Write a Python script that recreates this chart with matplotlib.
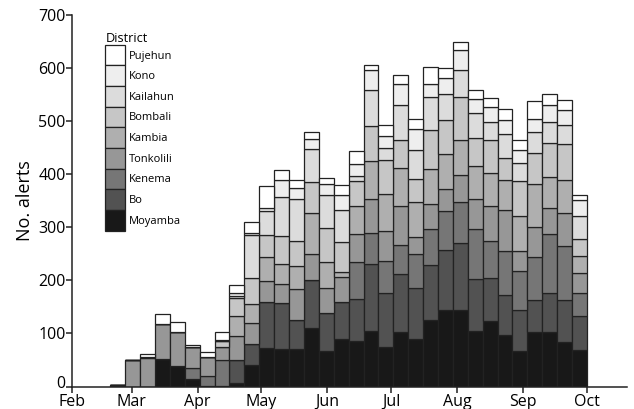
import numpy as np
import pandas as pd
import matplotlib
matplotlib.use('Agg')
import matplotlib.pyplot as plt
import matplotlib.dates as mdates
from matplotlib.transforms import ScaledTranslation

plt.rcParams['font.family'] = ['Open Sans', 'DejaVu Sans']

# weekly bins, first week starting 19 Feb 2014
week_starts = pd.date_range('2014-02-19', periods=32, freq='7D')

districts = ['Moyamba', 'Bo', 'Kenema', 'Tonkolili', 'Kambia',
             'Bombali', 'Kailahun', 'Kono', 'Pujehun']
colors = ['#181818', '#525252', '#767676', '#979797', '#afafaf',
          '#c6c6c6', '#dcdcdc', '#eeeeee', '#ffffff']

# alerts per week, one list per district (bottom of stack first)
moyamba = [0, 0, 0, 52, 39, 14, 1, 1.5, 6, 40.5, 72, 70, 70, 111, 67, 89,
           86, 105, 74, 103, 89, 125, 144, 144, 104.5, 123, 97, 67.5, 102, 102, 84.5, 69]
bo = [3, 0, 0, 0, 0, 0, 0, 0, 44, 39.5, 88, 88, 55, 89, 71, 71,
      78, 125.5, 102, 110, 96, 103.6, 114, 127, 98.5, 81.6, 75, 77, 61, 75, 78.5, 64]
kenema = [0, 0, 0, 0, 0, 21, 18, 48, 0, 0, 0, 0, 0, 0, 0, 0,
          71, 58, 60, 53, 64, 69, 73, 77, 93, 69, 84, 74, 82, 110, 101.5, 44]
tonkolili = [0, 50, 54, 65, 63, 40, 37, 25, 45, 39, 38, 36, 58, 49, 47, 47,
             52, 64, 58, 74, 33, 46.5, 41, 51.5, 56.5, 66, 77, 36, 56, 50, 62.5, 37.7]
kambia = [0, 0, 2, 0, 0, 0, 0, 0, 38, 36, 47, 36, 45, 78, 50, 9,
          53, 72, 68, 72, 66, 66, 66.5, 66, 64, 63, 56.5, 66, 81.6, 57, 63, 32]
bombali = [0, 0, 0, 0, 0, 0, 0, 11, 34, 49, 41, 53, 47, 58, 64, 56.5,
           48, 66, 65, 52, 44, 74, 64, 80, 52, 61.5, 40.5, 66, 57, 65, 68, 31]
kailahun = [0, 0, 0, 0, 0, 0, 0, 0, 4, 81, 44, 75, 78, 63, 61.5, 60,
            8, 69, 22, 67, 54, 61.5, 48, 51.5, 47, 34, 45.5, 34.5, 40, 40, 34, 43]
kono = [0, 0, 0, 0, 0, 0, 0, 2.5, 4.5, 4, 6, 32, 21, 18, 22, 29,
        23, 38, 23, 40, 40, 24.5, 31, 38, 26, 28, 26, 24, 25, 31, 28.5, 30]
pujehun = [0, 0, 6, 19, 20, 4, 9, 14, 15.5, 21.5, 42, 19, 16, 13, 11, 17.6,
           24, 9.4, 21, 16, 19, 32, 19.5, 14, 17.6, 17.6, 22, 19, 33, 22, 19, 11]

series = [moyamba, bo, kenema, tonkolili, kambia, bombali, kailahun, kono, pujehun]


def main():
    fig = plt.figure(figsize=(6.34, 4.09), dpi=100)
    ax = fig.add_axes([0.1136, 0.055, 0.876, 0.908])

    bottom = np.zeros(len(week_starts))
    handles = []
    for name, color, values in zip(districts, colors, series):
        values = np.array(values, dtype=float)
        bars = ax.bar(week_starts, values, width=7, bottom=bottom, align='edge',
                      color=color, edgecolor='#222222', linewidth=0.9, label=name)
        handles.append(bars)
        bottom += values

    ax.set_ylim(0, 700)
    ax.set_yticks(range(0, 701, 100))
    ax.set_xlim(pd.Timestamp('2014-02-01'), pd.Timestamp('2014-10-20'))
    ax.xaxis.set_major_locator(mdates.MonthLocator())
    ax.xaxis.set_major_formatter(mdates.DateFormatter('%b'))

    for side in ['top', 'right']:
        ax.spines[side].set_visible(False)
    for side in ['left', 'bottom']:
        ax.spines[side].set_linewidth(1.1)
        ax.spines[side].set_color('#222222')
    ax.tick_params(axis='both', labelsize=11.5, length=4, width=1.1,
                   color='#222222', pad=0.5)
    ax.tick_params(axis='x', pad=1.5)
    ax.set_ylabel('No. alerts', fontsize=13, labelpad=3)

    # nudge the "0" label up a little so it clears "Feb"
    zero_label = ax.get_yticklabels()[0]
    zero_label.set_transform(zero_label.get_transform() +
                             ScaledTranslation(0, 3 / 72, fig.dpi_scale_trans))

    ax.legend(handles[::-1], districts[::-1], title='District',
              loc='upper left', bbox_to_anchor=(0.046, 0.976),
              frameon=False, fontsize=8, title_fontsize=9.2,
              labelspacing=0, handleheight=2.48, handlelength=1.8,
              handletextpad=0.3, borderpad=0.2, alignment='left')

    fig.savefig('out.png', dpi=100)


if __name__ == '__main__':
    main()
